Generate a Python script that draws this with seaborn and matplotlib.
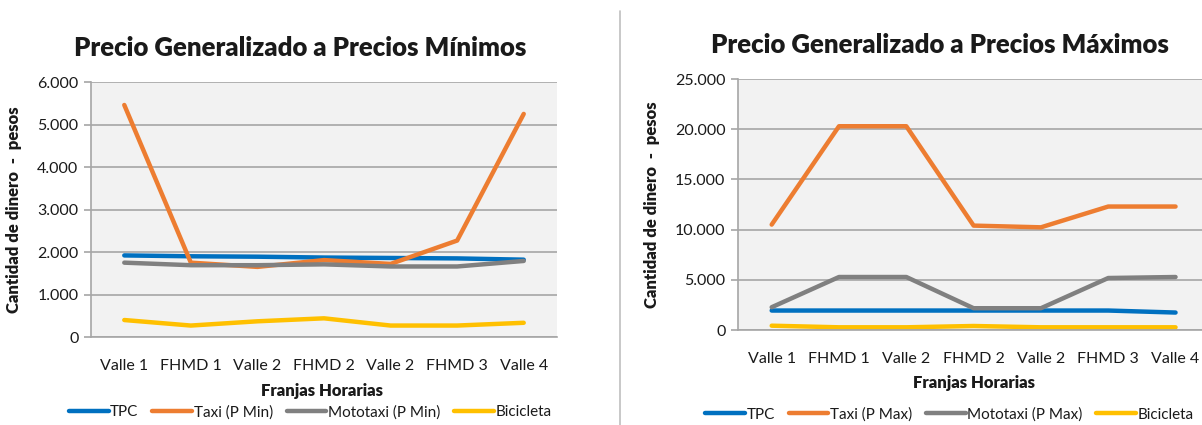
import numpy as np
import pandas as pd
import seaborn as sns
import matplotlib.pyplot as plt
from matplotlib.lines import Line2D
from matplotlib.ticker import FuncFormatter

# Time bands (note "Valle 2" appears twice in the source table)
franjas = ["Valle 1", "FHMD 1", "Valle 2", "FHMD 2", "Valle 2", "FHMD 3", "Valle 4"]

# Generalized price at minimum fares (pesos)
tpc_min = [1920, 1900, 1890, 1870, 1860, 1850, 1820]
taxi_min = [5460, 1750, 1650, 1810, 1720, 2270, 5250]
mototaxi_min = [1750, 1690, 1690, 1710, 1660, 1660, 1790]
bici_min = [400, 270, 370, 440, 270, 270, 335]

# Generalized price at maximum fares (pesos)
tpc_max = [1940, 1940, 1940, 1940, 1940, 1940, 1740]
taxi_max = [10500, 20300, 20300, 10400, 10230, 12300, 12300]
mototaxi_max = [2270, 5280, 5280, 2170, 2170, 5180, 5280]
bici_max = [430, 270, 270, 400, 270, 270, 270]

labels_min = ["TPC", "Taxi (P Min)", "Mototaxi (P Min)", "Bicicleta"]
labels_max = ["TPC", "Taxi (P Max)", "Mototaxi (P Max)", "Bicicleta"]
colors = ["#0070C0", "#ED7D31", "#808080", "#FFC000"]

sns.set_theme(style="white")
plt.rcParams["font.family"] = ["Lato", "DejaVu Sans"]

TXT = "#1a1a1a"


def long_frame(series, names):
    rows = []
    for name, vals in zip(names, series):
        for i, v in enumerate(vals):
            rows.append({"pos": i, "serie": name, "valor": v})
    return pd.DataFrame(rows)


def thousands(v, _):
    return f"{int(v):,}".replace(",", ".")


fig = plt.figure(figsize=(12.02, 4.25), dpi=100)
ax1 = fig.add_axes([0.0757, 0.207, 0.3877, 0.600])
ax2 = fig.add_axes([0.614, 0.2235, 0.392, 0.5905])

panels = [
    (ax1, [tpc_min, taxi_min, mototaxi_min, bici_min], labels_min,
     "Precio Generalizado a Precios Mínimos", 6000, 1000,
     0.449, 0.268, 0.080, 0.258, 0.030),
    (ax2, [tpc_max, taxi_max, mototaxi_max, bici_max], labels_max,
     "Precio Generalizado a Precios Máximos", 25000, 5000,
     0.429, 0.810, 0.099, 0.790, 0.025),
]

for (ax, series, names, title, ymax, step,
     title_x, xlab_x, xlab_y, leg_x, leg_y) in panels:
    df = long_frame(series, names)
    sns.lineplot(data=df, x="pos", y="valor", hue="serie", hue_order=names,
                 palette=colors, linewidth=3.2, sort=False, legend=False,
                 ax=ax)
    ax.set_facecolor("#F2F2F2")
    ax.set_xlim(-0.5, len(franjas) - 0.5)
    ax.set_ylim(0, ymax)
    ax.set_yticks(np.arange(0, ymax + 1, step))
    ax.yaxis.set_major_formatter(FuncFormatter(thousands))
    ax.set_xticks(range(len(franjas)))
    ax.set_xticklabels(franjas)
    ax.grid(axis="y", color="#A6A6A6", linewidth=1.2)
    ax.set_axisbelow(True)
    for s in ["top", "right"]:
        ax.spines[s].set_visible(False)
    for s in ["left", "bottom"]:
        ax.spines[s].set_color("#A6A6A6")
        ax.spines[s].set_linewidth(1.2)
    ax.tick_params(axis="y", which="both", left=True, length=5, width=1.2,
                   color="#A6A6A6", labelsize=11.5, labelcolor=TXT, pad=4)
    ax.tick_params(axis="x", bottom=False, labelsize=11.5,
                   labelcolor=TXT, pad=10)
    ax.set_xlabel("")
    ax.set_ylabel("Cantidad de dinero  -  pesos", fontsize=12,
                  fontweight="heavy", color=TXT, labelpad=11)
    ax.set_title(title, fontsize=18.5, fontweight="heavy", color=TXT,
                 pad=19, x=title_x)

    fig.text(xlab_x, xlab_y, "Franjas Horarias", ha="center", va="center",
             fontsize=12, fontweight="heavy", color=TXT)

    handles = [Line2D([], [], color=c, linewidth=3.2) for c in colors]
    fig.legend(handles, names, loc="center", bbox_to_anchor=(leg_x, leg_y),
               ncol=4, frameon=False, fontsize=11, handlelength=2.6,
               handletextpad=0.1, columnspacing=0.9,
               labelcolor=TXT)

# Divider between the two panels
fig.add_artist(Line2D([0.516, 0.516], [0.0, 0.975], color="#BFBFBF",
                      linewidth=1.2, transform=fig.transFigure))

fig.savefig("out.png", dpi=100)
